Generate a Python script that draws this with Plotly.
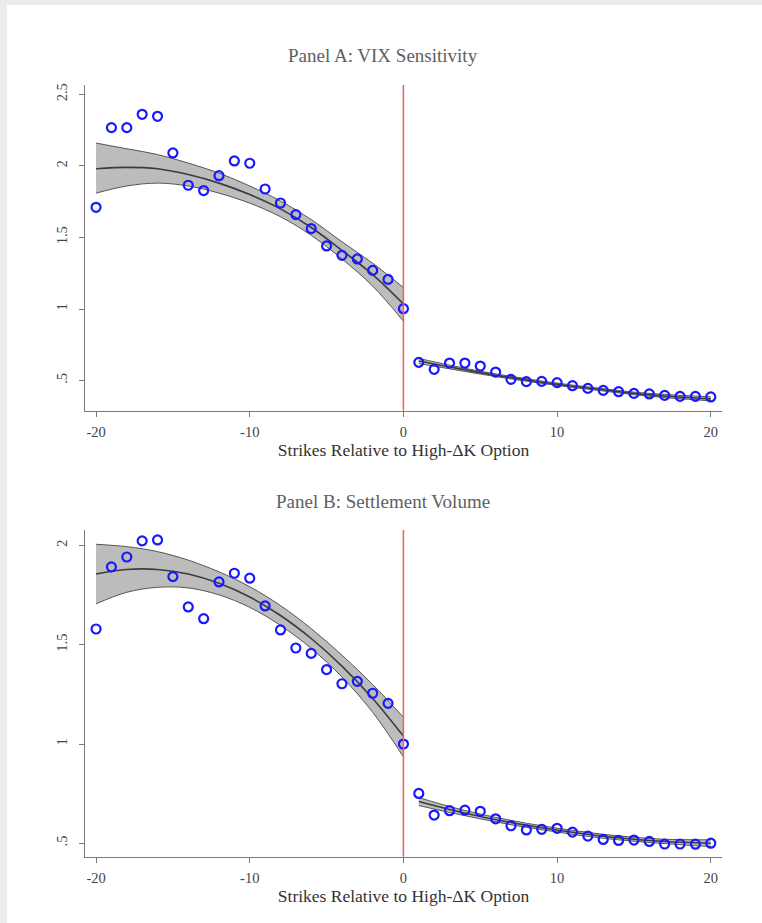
import plotly.graph_objects as go

# ---------------- data ----------------
strikes_left = list(range(-20, 1))
strikes_right = list(range(1, 21))

vix_left = [1.711, 2.268, 2.268, 2.361, 2.347, 2.091, 1.865, 1.828, 1.932, 2.035, 2.019,
            1.839, 1.741, 1.660, 1.562, 1.441, 1.375, 1.350, 1.270, 1.207, 1.002]
vix_right = [0.627, 0.578, 0.622, 0.622, 0.601, 0.559, 0.508, 0.492, 0.494, 0.485,
             0.464, 0.445, 0.431, 0.422, 0.410, 0.406, 0.396, 0.389, 0.389, 0.385]

vol_left = [1.580, 1.893, 1.943, 2.024, 2.029, 1.844, 1.691, 1.632, 1.817, 1.861, 1.836,
            1.696, 1.575, 1.484, 1.457, 1.375, 1.304, 1.316, 1.256, 1.205, 1.000]
vol_right = [0.751, 0.642, 0.664, 0.667, 0.661, 0.623, 0.588, 0.567, 0.570, 0.575,
             0.556, 0.536, 0.519, 0.514, 0.516, 0.509, 0.496, 0.496, 0.495, 0.500]

# fitted quadratic + 95% CI
fit_x_left = [-20, -18, -16, -14, -12, -10, -8, -6, -4, -2, 0]
fit_x_right = [1, 3, 5, 7, 9, 11, 13, 15, 17, 20]

vix_fit_left = [1.98, 1.99, 1.98, 1.94, 1.88, 1.80, 1.70, 1.57, 1.41, 1.24, 1.035]
vix_lo_left = [1.81, 1.86, 1.88, 1.86, 1.81, 1.74, 1.645, 1.515, 1.35, 1.16, 0.915]
vix_hi_left = [2.16, 2.12, 2.08, 2.02, 1.95, 1.86, 1.755, 1.625, 1.47, 1.32, 1.15]
vix_fit_right = [0.636, 0.595, 0.555, 0.520, 0.488, 0.460, 0.435, 0.410, 0.392, 0.372]
vix_lo_right = [0.618, 0.582, 0.545, 0.511, 0.480, 0.452, 0.427, 0.401, 0.381, 0.358]
vix_hi_right = [0.654, 0.608, 0.565, 0.529, 0.496, 0.468, 0.443, 0.419, 0.403, 0.386]

vol_fit_left = [1.857, 1.880, 1.880, 1.857, 1.810, 1.741, 1.648, 1.532, 1.393, 1.230, 1.040]
vol_lo_left = [1.707, 1.765, 1.790, 1.787, 1.752, 1.689, 1.598, 1.482, 1.338, 1.160, 0.935]
vol_hi_left = [2.007, 1.995, 1.970, 1.927, 1.868, 1.793, 1.698, 1.582, 1.448, 1.300, 1.135]
vol_fit_right = [0.710, 0.670, 0.635, 0.604, 0.578, 0.555, 0.535, 0.520, 0.509, 0.500]
vol_lo_right = [0.690, 0.655, 0.623, 0.593, 0.568, 0.545, 0.525, 0.510, 0.498, 0.483]
vol_hi_right = [0.730, 0.685, 0.647, 0.615, 0.588, 0.565, 0.545, 0.530, 0.520, 0.517]

x_tickvals = [-20, -10, 0, 10, 20]
x_ticktext = ["-20", "-10", "0", "10", "20"]
yA_tickvals = [0.5, 1, 1.5, 2, 2.5]
yA_ticktext = [".5", "1", "1.5", "2", "2.5"]
yB_tickvals = [0.5, 1, 1.5, 2]
yB_ticktext = [".5", "1", "1.5", "2"]

panel_titles = ["Panel A: VIX Sensitivity", "Panel B: Settlement Volume"]
x_title = "Strikes Relative to High-\u0394K Option"

# ---------------- figure ----------------
W, H = 762, 923
FONT = "Liberation Serif"
BAND_FILL = "#bcbcbc"
BAND_EDGE = "#555555"
CENTER = "#3c3c3c"
BLUE = "rgb(25,25,255)"
RED = "#ff5a5a"

fig = go.Figure()


def add_fit(xs, lo, hi, mid, xa, ya):
    fig.add_trace(go.Scatter(x=xs, y=hi, mode="lines", line=dict(color=BAND_EDGE, width=1, shape="spline"),
                             xaxis=xa, yaxis=ya, showlegend=False, hoverinfo="skip"))
    fig.add_trace(go.Scatter(x=xs, y=lo, mode="lines", line=dict(color=BAND_EDGE, width=1, shape="spline"),
                             fill="tonexty", fillcolor=BAND_FILL,
                             xaxis=xa, yaxis=ya, showlegend=False, hoverinfo="skip"))
    fig.add_trace(go.Scatter(x=xs, y=mid, mode="lines", line=dict(color=CENTER, width=1.6, shape="spline"),
                             xaxis=xa, yaxis=ya, showlegend=False, hoverinfo="skip"))


def add_points(xs, ys, xa, ya):
    fig.add_trace(go.Scatter(x=xs, y=ys, mode="markers",
                             marker=dict(symbol="circle-open", size=9, color=BLUE, line=dict(width=2.2, color=BLUE)),
                             xaxis=xa, yaxis=ya, showlegend=False))


# Panel A
add_fit(fit_x_left, vix_lo_left, vix_hi_left, vix_fit_left, "x", "y")
add_fit(fit_x_right, vix_lo_right, vix_hi_right, vix_fit_right, "x", "y")
add_points(strikes_left + strikes_right, vix_left + vix_right, "x", "y")

# Panel B
add_fit(fit_x_left, vol_lo_left, vol_hi_left, vol_fit_left, "x2", "y2")
add_fit(fit_x_right, vol_lo_right, vol_hi_right, vol_fit_right, "x2", "y2")
add_points(strikes_left + strikes_right, vol_left + vol_right, "x2", "y2")

x_dom = [85 / W, 722 / W]
yA_dom = [1 - 410.7 / H, 1 - 85 / H]
yB_dom = [1 - 856.7 / H, 1 - 530 / H]

axis_common = dict(showgrid=False, zeroline=False, showline=True, linecolor="#7a7a7a", linewidth=1.3,
                   ticks="outside", ticklen=5, tickwidth=1.1, tickcolor="#7a7a7a",
                   tickfont=dict(family=FONT, size=14.5, color="#444444"), automargin=False)

xa = dict(axis_common, domain=x_dom, range=[-20.72, 20.73], tickvals=x_tickvals, ticktext=x_ticktext,
          ticklabelstandoff=3,
          title=dict(text=x_title, font=dict(family=FONT, size=17.5, color="#333333"), standoff=0))

fig.update_layout(
    width=W, height=H,
    margin=dict(l=0, r=0, t=0, b=0),
    paper_bgcolor="white", plot_bgcolor="white",
    xaxis=dict(xa, anchor="y"),
    xaxis2=dict(xa, anchor="y2"),
    yaxis=dict(axis_common, domain=yA_dom, range=[0.289, 2.566], tickvals=yA_tickvals,
               ticktext=yA_ticktext, tickangle=-90, anchor="x", ticklabelstandoff=6),
    yaxis2=dict(axis_common, domain=yB_dom, range=[0.432, 2.079], tickvals=yB_tickvals,
                ticktext=yB_ticktext, tickangle=-90, anchor="x2", ticklabelstandoff=6),
    showlegend=False,
)

# red reference lines at zero
for xr, yr in [("x", "y domain"), ("x2", "y2 domain")]:
    fig.add_shape(type="line", xref=xr, yref=yr, x0=0, x1=0, y0=0, y1=1,
                  line=dict(color=RED, width=1.5), layer="above")

# light gray frame strips (top and left)
fig.add_shape(type="rect", xref="paper", yref="paper", x0=0, x1=7 / W, y0=0, y1=1,
              fillcolor="#ebebeb", line=dict(width=0), layer="below")
fig.add_shape(type="rect", xref="paper", yref="paper", x0=0, x1=1, y0=1 - 5 / H, y1=1,
              fillcolor="#ebebeb", line=dict(width=0), layer="below")

# panel titles
for txt, ypx in zip(panel_titles, [55, 501]):
    fig.add_annotation(text=txt, xref="paper", yref="paper", x=383 / W, y=1 - ypx / H,
                       showarrow=False, xanchor="center", yanchor="middle",
                       font=dict(family=FONT, size=19, color="#606060"))

fig.write_html("out.html", config={"displayModeBar": False},
               post_script="document.body.style.margin='0';document.body.style.overflow='hidden';")
